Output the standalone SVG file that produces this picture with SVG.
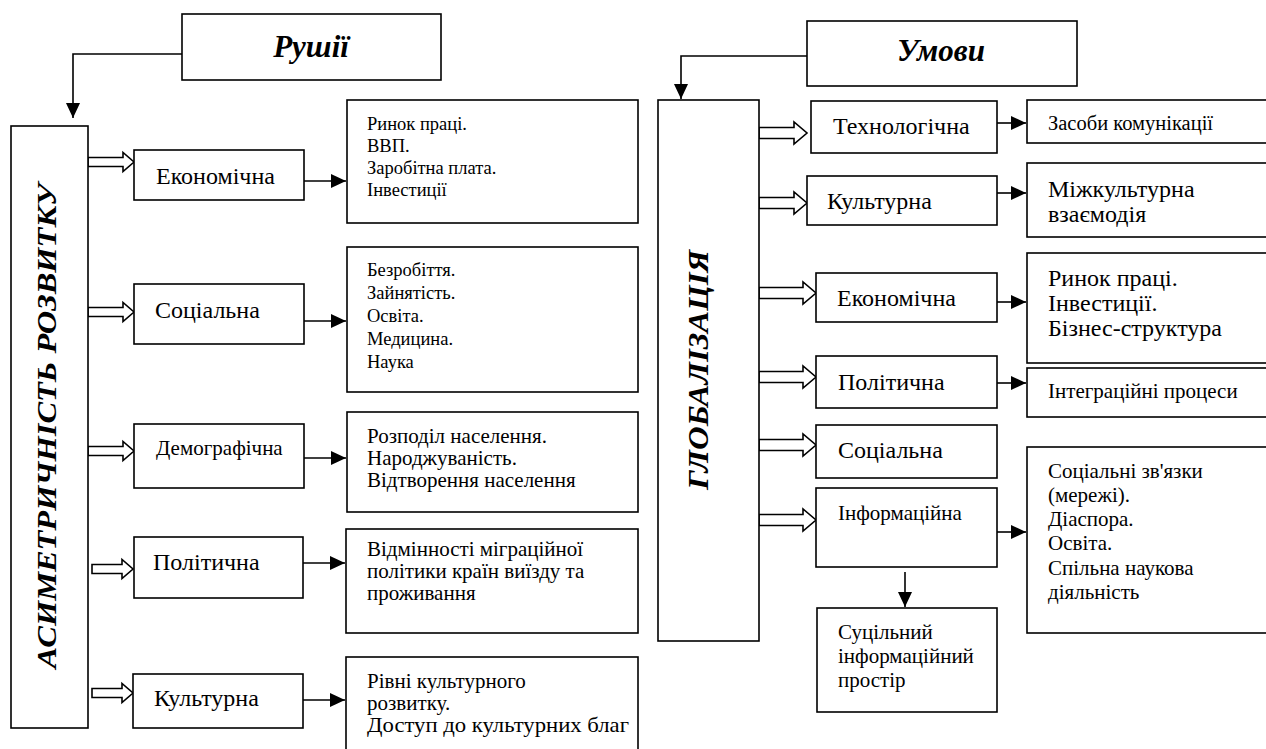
<svg xmlns="http://www.w3.org/2000/svg" width="1266" height="749" viewBox="0 0 1266 749">
  <style>
    .box { fill: #fff; stroke: #000; stroke-width: 1.6; }
    .t { font-family: "Liberation Serif", "Times New Roman", serif; fill: #000; }
    .lbl { font-size: 24px; }
    .lbl2 { font-size: 21px; }
    .d18 { font-size: 18.5px; }
    .d20 { font-size: 20.5px; }
    .d21 { font-size: 21px; }
    .d24 { font-size: 24px; }
    .head { font-weight: bold; font-style: italic; }
    .line { fill: none; stroke: #000; stroke-width: 1.6; }
    .dbl { fill: #fff; stroke: #000; stroke-width: 1.6; stroke-linejoin: miter; }
  </style>
  <defs>
    <marker id="tri" markerUnits="userSpaceOnUse" markerWidth="15" markerHeight="14" refX="15" refY="7" orient="auto">
      <path d="M0,0 L15,7 L0,14 z" fill="#000"/>
    </marker>
  </defs>
  <rect width="1266" height="749" fill="#fff"/>

  <!-- connectors -->
  <g id="connectors">
    <path class="line" d="M182,54 H73 V118" marker-end="url(#tri)"/>
    <path class="line" d="M807,56 H681 V99" marker-end="url(#tri)"/>

    <!-- hollow arrows from the left column -->
    <polygon class="dbl" points="88,157.5 123,157.5 123,152.5 134,162 123,171.5 123,166.5 88,166.5"/>
    <polygon class="dbl" points="88,307.5 123,307.5 123,302.5 134,312 123,321.5 123,316.5 88,316.5"/>
    <polygon class="dbl" points="88,446.5 123,446.5 123,441.5 134,451 123,460.5 123,455.5 88,455.5"/>
    <polygon class="dbl" points="92,564.5 122,564.5 122,559.5 133,569 122,578.5 122,573.5 92,573.5"/>
    <polygon class="dbl" points="92,688.5 122,688.5 122,683.5 133,693 122,702.5 122,697.5 92,697.5"/>

    <!-- hollow arrows from the right column -->
    <polygon class="dbl" points="759,127.5 794,127.5 794,122 807,133 794,144 794,138.5 759,138.5"/>
    <polygon class="dbl" points="759,197.5 794,197.5 794,192 807,203 794,214 794,208.5 759,208.5"/>
    <polygon class="dbl" points="759,287.5 803,287.5 803,282 816,293 803,304 803,298.5 759,298.5"/>
    <polygon class="dbl" points="759,371.5 803,371.5 803,366 816,377 803,388 803,382.5 759,382.5"/>
    <polygon class="dbl" points="759,439.5 803,439.5 803,434 816,445 803,456 803,450.5 759,450.5"/>
    <polygon class="dbl" points="759,514.5 803,514.5 803,509 816,520 803,531 803,525.5 759,525.5"/>

    <!-- solid arrows to detail boxes -->
    <line class="line" x1="304" y1="181" x2="346" y2="181" marker-end="url(#tri)"/>
    <line class="line" x1="304" y1="321" x2="346" y2="321" marker-end="url(#tri)"/>
    <line class="line" x1="304" y1="458" x2="346" y2="458" marker-end="url(#tri)"/>
    <line class="line" x1="303" y1="563" x2="345" y2="563" marker-end="url(#tri)"/>
    <line class="line" x1="303" y1="700" x2="345" y2="700" marker-end="url(#tri)"/>

    <line class="line" x1="997" y1="123" x2="1026" y2="123" marker-end="url(#tri)"/>
    <line class="line" x1="997" y1="193" x2="1026" y2="193" marker-end="url(#tri)"/>
    <line class="line" x1="997" y1="302" x2="1026" y2="302" marker-end="url(#tri)"/>
    <line class="line" x1="997" y1="383" x2="1026" y2="383" marker-end="url(#tri)"/>
    <line class="line" x1="997" y1="532" x2="1026" y2="532" marker-end="url(#tri)"/>
    <line class="line" x1="905" y1="572" x2="905" y2="607" marker-end="url(#tri)"/>
  </g>

  <!-- left part: drivers -->
  <g id="rushii">
    <rect class="box" x="182" y="14" width="259" height="66"/>
    <text class="t head" x="311" y="57" font-size="31" text-anchor="middle">Рушії</text>
  </g>
  <g id="asymetry">
    <rect class="box" x="11" y="126" width="77" height="602"/>
    <text class="t head" font-size="28" text-anchor="middle" transform="translate(56,426) rotate(-90)" textLength="485" lengthAdjust="spacingAndGlyphs">АСИМЕТРИЧНІСТЬ РОЗВИТКУ</text>
  </g>

  <g id="l-econ">
    <rect class="box" x="134" y="150" width="170" height="50"/>
    <text class="t lbl" x="156" y="184">Економічна</text>
  </g>
  <g id="l-econ-d">
    <rect class="box" x="347" y="100" width="291" height="123"/>
    <text class="t d18" x="367" y="130">Ринок праці.</text>
    <text class="t d18" x="367" y="152">ВВП.</text>
    <text class="t d18" x="367" y="174">Заробітна плата.</text>
    <text class="t d18" x="367" y="196">Інвестиції</text>
  </g>

  <g id="l-soc">
    <rect class="box" x="134" y="284" width="170" height="60"/>
    <text class="t lbl" x="155" y="318">Соціальна</text>
  </g>
  <g id="l-soc-d">
    <rect class="box" x="347" y="247" width="291" height="145"/>
    <text class="t d18" x="367" y="276">Безробіття.</text>
    <text class="t d18" x="367" y="299">Зайнятість.</text>
    <text class="t d18" x="367" y="322">Освіта.</text>
    <text class="t d18" x="367" y="345">Медицина.</text>
    <text class="t d18" x="367" y="368">Наука</text>
  </g>

  <g id="l-demo">
    <rect class="box" x="134" y="424" width="170" height="64"/>
    <text class="t lbl2" x="156" y="455">Демографічна</text>
  </g>
  <g id="l-demo-d">
    <rect class="box" x="347" y="412" width="291" height="100"/>
    <text class="t d21" x="367" y="443">Розподіл населення.</text>
    <text class="t d21" x="367" y="465">Народжуваність.</text>
    <text class="t d21" x="367" y="487">Відтворення населення</text>
  </g>

  <g id="l-polit">
    <rect class="box" x="134" y="537" width="169" height="61"/>
    <text class="t lbl" x="153" y="570">Політична</text>
  </g>
  <g id="l-polit-d">
    <rect class="box" x="346" y="529" width="292" height="104"/>
    <text class="t d21" x="367" y="556">Відмінності міграційної</text>
    <text class="t d21" x="367" y="578">політики країн виїзду та</text>
    <text class="t d21" x="367" y="600">проживання</text>
  </g>

  <g id="l-kult">
    <rect class="box" x="133" y="674" width="170" height="54"/>
    <text class="t lbl" x="154" y="706">Культурна</text>
  </g>
  <g id="l-kult-d">
    <rect class="box" x="346" y="657" width="292" height="100"/>
    <text class="t d21" x="367" y="688">Рівні культурного</text>
    <text class="t d21" x="367" y="710">розвитку.</text>
    <text class="t d21" x="367" y="732" textLength="262" lengthAdjust="spacingAndGlyphs">Доступ до культурних благ</text>
  </g>

  <!-- right part: conditions -->
  <g id="umovy">
    <rect class="box" x="807" y="21" width="270" height="65"/>
    <text class="t head" x="941" y="61" font-size="31" text-anchor="middle">Умови</text>
  </g>
  <g id="globalization">
    <rect class="box" x="658" y="100" width="101" height="541"/>
    <text class="t head" font-size="30" text-anchor="middle" transform="translate(708,370) rotate(-90)" textLength="240" lengthAdjust="spacingAndGlyphs">ГЛОБАЛІЗАЦІЯ</text>
  </g>

  <g id="r-tech">
    <rect class="box" x="811" y="101" width="186" height="52"/>
    <text class="t lbl" x="833" y="134">Технологічна</text>
  </g>
  <g id="r-tech-d">
    <rect class="box" x="1027" y="100" width="245" height="43"/>
    <text class="t d20" x="1048" y="130">Засоби комунікації</text>
  </g>

  <g id="r-kult">
    <rect class="box" x="807" y="176" width="190" height="49"/>
    <text class="t lbl" x="827" y="209">Культурна</text>
  </g>
  <g id="r-kult-d">
    <rect class="box" x="1027" y="163" width="245" height="74"/>
    <text class="t d24" x="1048" y="197">Міжкультурна</text>
    <text class="t d24" x="1048" y="222">взаємодія</text>
  </g>

  <g id="r-econ">
    <rect class="box" x="816" y="273" width="181" height="49"/>
    <text class="t lbl" x="837" y="306">Економічна</text>
  </g>
  <g id="r-econ-d">
    <rect class="box" x="1027" y="253" width="245" height="110"/>
    <text class="t d24" x="1048" y="286">Ринок праці.</text>
    <text class="t d24" x="1048" y="311">Інвестиції.</text>
    <text class="t d24" x="1048" y="336">Бізнес-структура</text>
  </g>

  <g id="r-polit">
    <rect class="box" x="816" y="356" width="181" height="52"/>
    <text class="t lbl" x="838" y="390">Політична</text>
  </g>
  <g id="r-polit-d">
    <rect class="box" x="1027" y="368" width="245" height="49"/>
    <text class="t d21" x="1048" y="398">Інтеграційні процеси</text>
  </g>

  <g id="r-soc">
    <rect class="box" x="816" y="425" width="181" height="53"/>
    <text class="t lbl" x="838" y="458">Соціальна</text>
  </g>

  <g id="r-info">
    <rect class="box" x="816" y="488" width="181" height="79"/>
    <text class="t lbl2" x="838" y="520">Інформаційна</text>
  </g>
  <g id="r-info-d">
    <rect class="box" x="1027" y="447" width="245" height="186"/>
    <text class="t d21" x="1048" y="478">Соціальні зв'язки</text>
    <text class="t d21" x="1048" y="502">(мережі).</text>
    <text class="t d21" x="1048" y="526">Діаспора.</text>
    <text class="t d21" x="1048" y="550">Освіта.</text>
    <text class="t d21" x="1048" y="575">Спільна наукова</text>
    <text class="t d21" x="1048" y="599">діяльність</text>
  </g>

  <g id="r-space">
    <rect class="box" x="817" y="608" width="180" height="104"/>
    <text class="t lbl2" x="838" y="639">Суцільний</text>
    <text class="t lbl2" x="838" y="663">інформаційний</text>
    <text class="t lbl2" x="838" y="687">простір</text>
  </g>
</svg>
